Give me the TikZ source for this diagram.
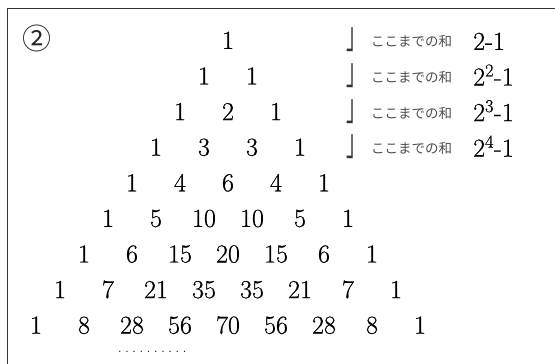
\documentclass[tikz,border=0pt]{standalone}
\usepackage{fontspec}
\newfontfamily\jpfont{Noto Sans CJK JP}
\newfontfamily\numfont{Latin Modern Roman}[FakeBold=0.6]
\usetikzlibrary{positioning}
\tikzset{
  num/.style={anchor=base, inner sep=0pt, font=\numfont\fontsize{26}{26}\selectfont},
  total/.style={anchor=base west, inner sep=0pt, font=\numfont\fontsize{26}{26}\selectfont},
  sumtext/.style={anchor=base west, inner sep=0pt, text=black!70, font=\jpfont\fontsize{13.5}{13.5}\selectfont},
  corner/.style={anchor=base west, inner sep=0pt, text=black!80, font=\jpfont\fontsize{24}{24}\selectfont},
  frameline/.style={black!80, line width=0.8pt}
}
\begin{document}
\begin{tikzpicture}[x=1pt, y=-1pt]
  \useasboundingbox (0,0) rectangle (555,364);
  % frame, only the top and left edges show
  \draw[frameline] (7,364) -- (7,8) -- (555,8);
  \node[inner sep=0pt, text=black!85, font=\jpfont\fontsize{29}{29}\selectfont] (mark) at (37,38) {②};
  % rows of the triangle, n = 0..8
  \foreach \row [count=\n from 0] in {{1},{1,1},{1,2,1},{1,3,3,1},{1,4,6,4,1},
      {1,5,10,10,5,1},{1,6,15,20,15,6,1},{1,7,21,35,35,21,7,1},
      {1,8,28,56,70,56,28,8,1}}{
    \pgfmathsetmacro{\yy}{48.9+\n*35.6}
    \foreach \v [count=\k from 0] in \row {
      \pgfmathsetmacro{\xx}{228+(\k-\n/2)*48}
      \node[num] (p\n-\k) at (\xx,\yy) {\v};
    }
  }
  % sums down to each of the first four rows
  \foreach \e [count=\n from 0] in {2,2\textsuperscript{2},2\textsuperscript{3},2\textsuperscript{4}}{
    \pgfmathsetmacro{\yy}{48.9+\n*35.6}
    \node[corner] (br\n) at (346.5,\yy) {\scalebox{0.8}[1.55]{」}};
    \node[sumtext] (txt\n) at (371,\yy-2) {ここまでの和};
    \node[total] (sum\n) at (473,\yy+1) {\e-1};
  }
  % dots under the last row
  \node[anchor=base west, inner sep=0pt, font=\fontsize{16}{16}\selectfont] (dots) at (116,352)
    {\makebox[72pt][l]{\xleaders\hbox to 7.2pt{\hss.\hss}\hskip 72pt}};
\end{tikzpicture}
\end{document}
